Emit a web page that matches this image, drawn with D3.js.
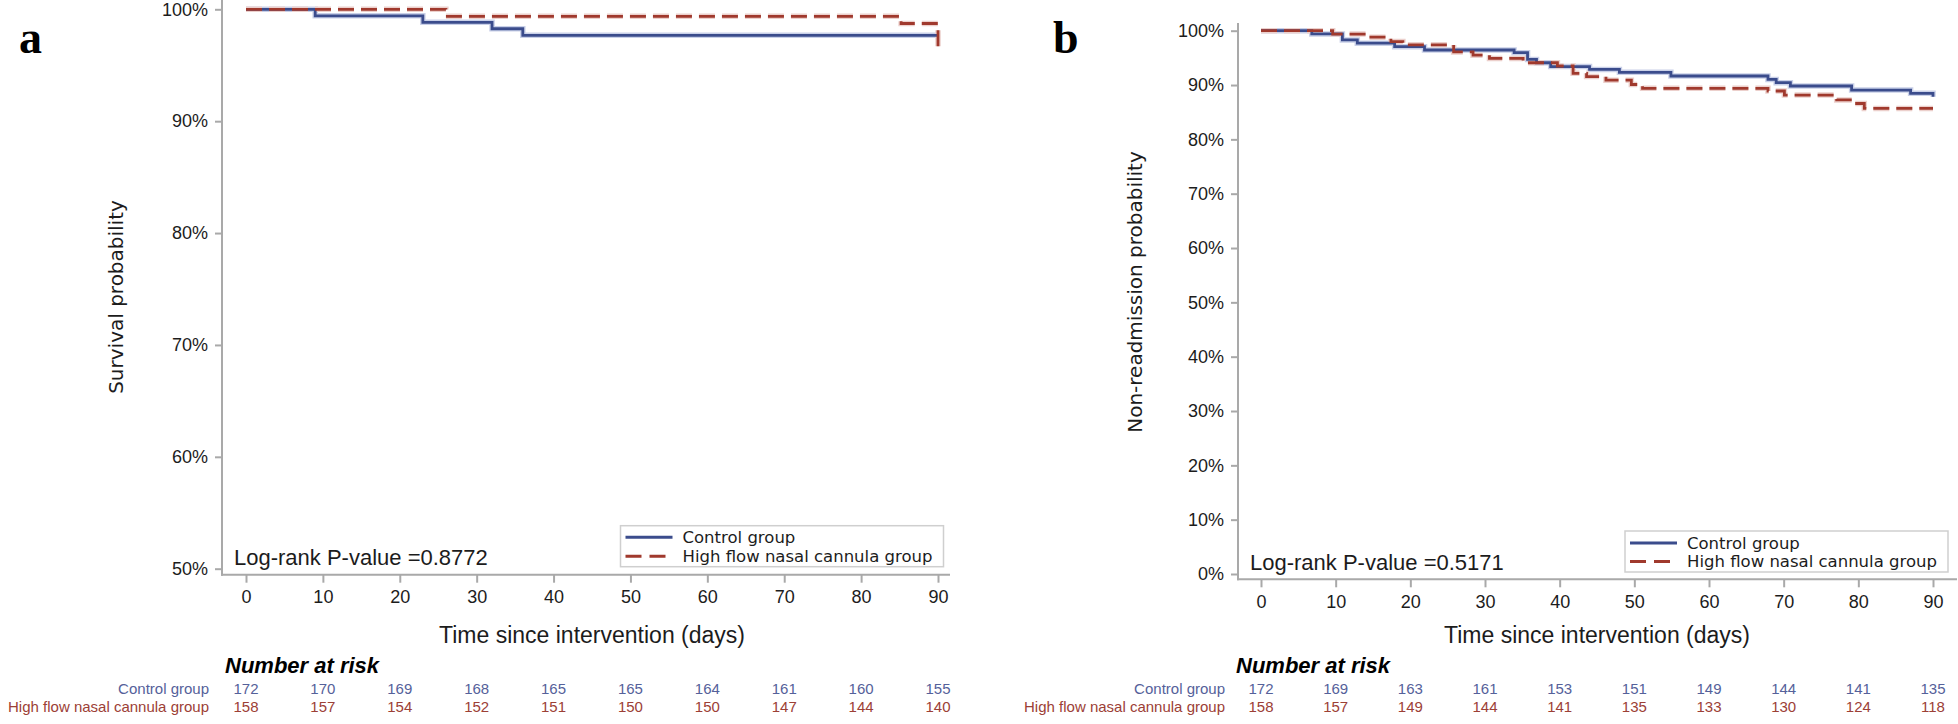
<!DOCTYPE html>
<html><head><meta charset="utf-8">
<script src="https://cdn.jsdelivr.net/npm/d3@7"></script>
<style>body{margin:0;background:#fff}svg{display:block}</style>
</head><body>
<svg id="chart" width="1958" height="724"></svg>
<script>
// ---------- data ----------
const riskDays = [0, 10, 20, 30, 40, 50, 60, 70, 80, 90];
const groupNames = ["Control group", "High flow nasal cannula group"];

// Panel a: survival (day, probability)
const survControl = [[0,1.0],[9,0.9942],[23,0.9884],[32,0.9826],[36,0.9767],[90,0.9767]];
const survHFNC    = [[0,1.0],[26,0.9937],[85.2,0.9873],[90,0.9656]];
const riskA_control = [172,170,169,168,165,165,164,161,160,155];
const riskA_hfnc    = [158,157,154,152,151,150,150,147,144,140];
const pValueA = "Log-rank P-value  =0.8772";

// Panel b: non-readmission (day, probability)
const readmControl = [[0,1.0],[6.8,0.994],[10.9,0.983],[12.9,0.977],[17.9,0.9706],[21.9,0.9645],[33.9,0.9595],[35.7,0.9472],[36.9,0.941],[38.8,0.934],[44,0.9288],[48,0.9233],[54.9,0.9166],[67.9,0.9104],[69,0.9043],[70.9,0.8982],[79.1,0.8908],[87,0.8847],[90,0.8785]];
const readmHFNC    = [[0,1.0],[9.6,0.9937],[14.3,0.988],[17.4,0.980],[19,0.974],[25.8,0.961],[28.4,0.955],[30.6,0.949],[35.1,0.941],[39.7,0.935],[41.8,0.9215],[43.6,0.9155],[46.2,0.909],[49.6,0.901],[51.1,0.894],[67.9,0.889],[70.1,0.8815],[77.1,0.8725],[79.5,0.866],[80.8,0.857],[90,0.857]];
const riskB_control = [172,169,163,161,153,151,149,144,141,135];
const riskB_hfnc    = [158,157,149,144,141,135,133,130,124,118];
const pValueB = "Log-rank P-value  =0.5171";

const yTicksA = [0.5,0.6,0.7,0.8,0.9,1.0];
const yTicksB = [0,0.1,0.2,0.3,0.4,0.5,0.6,0.7,0.8,0.9,1.0];

// ---------- style ----------
const C_BLUE = "#3b4c8c", C_RED = "#a0392d";
const C_BLUE_T = "#55619a", C_RED_T = "#9c4036";
const C_AXIS = "#a9a9a9", C_TEXT = "#1c1c1c";
const SANS = "'Liberation Sans', Arial, sans-serif";
const WIDE = "'DejaVu Sans', Verdana, sans-serif";

const svg = d3.select("#chart");

function panel(cfg) {
  const g = svg.append("g");
  const x = d3.scaleLinear().domain([0, 90]).range([cfg.x0, cfg.x1]);
  const y = d3.scaleLinear().domain(cfg.yDomain).range(cfg.yRange);

  // panel letter
  g.append("text").attr("x", cfg.letterX).attr("y", 53)
    .attr("font-family", "'Liberation Serif', 'Times New Roman', serif")
    .attr("font-weight", "bold").attr("font-size", 46).attr("fill", "#000")
    .text(cfg.letter);

  // y axis
  const yAx = g.append("g").attr("transform", `translate(${cfg.axisX},0)`)
    .call(d3.axisLeft(y).tickValues(cfg.yTicks).tickFormat(d3.format(".0%")).tickSize(7).tickPadding(7));
  yAx.select(".domain").remove();
  yAx.selectAll(".tick line").attr("stroke", C_AXIS).attr("stroke-width", 2);
  yAx.selectAll(".tick text").attr("font-family", SANS).attr("font-size", 18).attr("fill", C_TEXT);
  g.append("line").attr("x1", cfg.axisX).attr("x2", cfg.axisX)
    .attr("y1", cfg.axisTop).attr("y2", cfg.xAxisY + 1)
    .attr("stroke", C_AXIS).attr("stroke-width", 2);

  // x axis
  const xAx = g.append("g").attr("transform", `translate(0,${cfg.xAxisY})`)
    .call(d3.axisBottom(x).tickValues(riskDays).tickFormat(d3.format("d")).tickSize(8).tickPadding(8));
  xAx.select(".domain").remove();
  xAx.selectAll(".tick line").attr("stroke", C_AXIS).attr("stroke-width", 2);
  xAx.selectAll(".tick text").attr("font-family", SANS).attr("font-size", 18).attr("fill", C_TEXT);
  g.append("line").attr("x1", cfg.axisX - 1).attr("x2", cfg.axisEnd)
    .attr("y1", cfg.xAxisY).attr("y2", cfg.xAxisY)
    .attr("stroke", C_AXIS).attr("stroke-width", 2);

  // y title
  g.append("text").attr("transform", `translate(${cfg.yTitleX},${cfg.yTitleY}) rotate(-90)`)
    .attr("text-anchor", "middle").attr("dominant-baseline", "central")
    .attr("font-family", WIDE).attr("font-size", 20).attr("fill", C_TEXT)
    .text(cfg.yTitle);

  // x title
  g.append("text").attr("x", (cfg.x0 + cfg.x1) / 2).attr("y", 635)
    .attr("text-anchor", "middle").attr("dominant-baseline", "central")
    .attr("font-family", SANS).attr("font-size", 23).attr("fill", C_TEXT)
    .text("Time since intervention (days)");

  // curves
  const line = d3.line().x(d => x(d[0])).y(d => y(d[1])).curve(d3.curveStepAfter);
  const series = [
    {data: cfg.control, color: C_BLUE, halo: "#c9d0e8", dash: null},
    {data: cfg.hfnc, color: C_RED, halo: "#ecd0cc", dash: "16,7"}
  ];
  series.forEach(s => {
    g.append("path").attr("d", line(s.data)).attr("fill", "none")
      .attr("stroke", s.halo).attr("stroke-width", 5.5)
      .attr("stroke-dasharray", s.dash);
  });
  series.forEach(s => {
    g.append("path").attr("d", line(s.data)).attr("fill", "none")
      .attr("stroke", s.color).attr("stroke-width", 2.8)
      .attr("stroke-dasharray", s.dash);
  });

  // p-value
  g.append("text").attr("x", cfg.pX).attr("y", cfg.pY)
    .attr("font-family", SANS).attr("font-size", 22).attr("fill", C_TEXT)
    .attr("dominant-baseline", "central")
    .text(cfg.pText);

  // legend
  const L = cfg.legend;
  g.append("rect").attr("x", L.x).attr("y", L.y).attr("width", L.w).attr("height", L.h)
    .attr("fill", "#fff").attr("stroke", "#cfcfcf").attr("stroke-width", 1.5);
  series.forEach((s, i) => {
    const yy = L.y + L.row0 + i * L.rowGap;
    g.append("line").attr("x1", L.x + 5).attr("x2", L.x + 52).attr("y1", yy).attr("y2", yy)
      .attr("stroke", s.color).attr("stroke-width", 3).attr("stroke-dasharray", s.dash ? "16,8" : null);
    g.append("text").attr("x", L.x + 62).attr("y", yy).attr("dominant-baseline", "central")
      .attr("font-family", WIDE).attr("font-size", 16.5).attr("fill", C_TEXT)
      .text(groupNames[i]);
  });

  // number at risk
  g.append("text").attr("x", cfg.narX).attr("y", 665).attr("dominant-baseline", "central")
    .attr("font-family", SANS).attr("font-size", 22).attr("font-weight", "bold")
    .attr("font-style", "italic").attr("fill", "#000").text("Number at risk");
  const rows = [{vals: cfg.riskC, color: C_BLUE_T, y: 688}, {vals: cfg.riskH, color: C_RED_T, y: 706.5}];
  rows.forEach((r, i) => {
    g.append("text").attr("x", cfg.axisX - 13).attr("y", r.y).attr("text-anchor", "end")
      .attr("dominant-baseline", "central").attr("font-family", SANS).attr("font-size", 15)
      .attr("fill", r.color).text(groupNames[i]);
    g.selectAll(null).data(r.vals.map((v, j) => [riskDays[j], v])).enter().append("text")
      .attr("x", d => x(d[0])).attr("y", r.y).attr("text-anchor", "middle")
      .attr("dominant-baseline", "central").attr("font-family", SANS).attr("font-size", 15)
      .attr("fill", r.color).text(d => d[1]);
  });
}

panel({
  letter: "a", letterX: 19,
  axisX: 222, x0: 246, x1: 938, axisEnd: 950, axisTop: 0, xAxisY: 574.7,
  yDomain: [0.5, 1.0], yRange: [568.7, 9.3], yTicks: yTicksA,
  yTitle: "Survival probability", yTitleX: 116, yTitleY: 297,
  control: survControl, hfnc: survHFNC,
  pText: pValueA, pX: 234, pY: 557,
  legend: {x: 620.5, y: 525.7, w: 323, h: 41, row0: 11.5, rowGap: 19},
  narX: 225, riskC: riskA_control, riskH: riskA_hfnc
});

panel({
  letter: "b", letterX: 1053,
  axisX: 1238, x0: 1261, x1: 1933, axisEnd: 1957, axisTop: 23, xAxisY: 579.3,
  yDomain: [0, 1.0], yRange: [574, 30.7], yTicks: yTicksB,
  yTitle: "Non-readmission probability", yTitleX: 1135, yTitleY: 292,
  control: readmControl, hfnc: readmHFNC,
  pText: pValueB, pX: 1250, pY: 562,
  legend: {x: 1625, y: 531, w: 323, h: 41, row0: 12, rowGap: 18.5},
  narX: 1236, riskC: riskB_control, riskH: riskB_hfnc
});
</script>
</body></html>
